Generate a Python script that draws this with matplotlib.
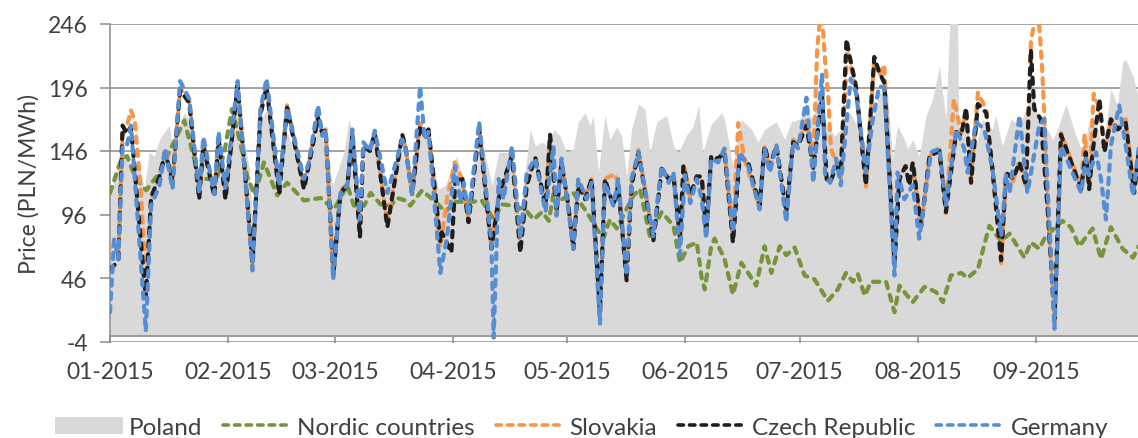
import matplotlib
matplotlib.use("Agg")
import matplotlib.pyplot as plt
from matplotlib.patches import Patch
from matplotlib.lines import Line2D

# day index counted from 1 Jan 2015, values in PLN/MWh
month_days = [0, 31, 59, 90, 120, 151, 181, 212, 243]
month_labels = ["01-2015", "02-2015", "03-2015", "04-2015", "05-2015",
                "06-2015", "07-2015", "08-2015", "09-2015"]

pl_day = [0, 3.3, 5.1, 7.7, 9, 10.3, 11.6, 13, 14.3, 15.6, 16.4, 17.8, 19.5, 20.8, 23, 24.4,
          27, 28.8, 30.5, 32.2, 33.5, 36.6, 37.9, 39.5, 41.3, 44, 46.5, 50.9, 54.4, 56.6,
          58.4, 61.4, 62.7, 64, 65.8, 67.1, 69.3, 72.8, 76.3, 79.3, 81.9, 83.6, 86.3, 88,
          91, 94.1, 97.1, 100.3, 102, 105.5, 107.7, 110.3, 111.6, 113.4, 114.7, 116.6,
          118.1, 119.8, 121.6, 122.9, 124.7, 126, 126.8, 128.2, 129.9, 131.2, 133, 134.3,
          135.6, 136.9, 138.7, 140.4, 141.7, 143.5, 146.1, 147.9, 149.2, 151.4, 153,
          154.5, 155.6, 157.8, 160.5, 161.3, 163.5, 165.7, 168.4, 170.1, 171.8, 174.9,
          177.1, 178.8, 181, 182.3, 184.6, 185.8, 188, 190.2, 192.8, 194.2, 196.7, 198.4,
          201.9, 204.1, 205.4, 206.7, 208.5, 209.4, 210.7, 212.4, 214.2, 215.9, 217.7,
          219.4, 220.6, 222.4, 222.8, 224.7, 226.4, 229, 231.6, 232.5, 234.2, 236.5,
          238.7, 240.8, 242.2, 243.9, 246.1, 247.4, 248.7, 250.9, 253.5, 255.3, 257,
          258.8, 260.5, 262.7, 264.4, 265.8, 266.6, 268.5, 270]
pl_val = [113, 145, 137, 134, 116, 145, 142, 155, 161, 166, 145, 163, 176, 171, 113, 150,
          119, 155, 113, 163, 182, 132, 71, 171, 179, 124, 161, 126, 163, 161,
          119, 145, 171, 155, 103, 150, 158, 119, 150, 113, 163, 150, 116, 119,
          142, 103, 161, 119, 145, 145, 98, 163, 150, 153, 150, 163,
          158, 145, 148, 169, 176, 166, 174, 129, 174, 155, 165, 158,
          126, 163, 183, 179, 145, 169, 174, 150, 145, 159, 165,
          182, 145, 167, 176, 171, 134, 171, 163, 153, 163, 169,
          155, 169, 171, 179, 171, 197, 166, 158, 166, 176, 163, 150,
          192, 190, 140, 166, 155, 148, 155, 142, 174, 187, 213,
          171, 260, 260, 163, 174, 140, 171, 163, 174, 150, 171,
          166, 182, 190, 171, 163, 155, 163, 183, 158, 145, 169,
          171, 145, 195, 182, 216, 218, 205, 187]

no_day = [0, 3, 4.5, 6.5, 9.5, 13, 15, 19.5, 23, 25, 28, 30, 32, 34, 36, 38, 40.4, 43.9,
          46.5, 50.9, 55.3, 58.8, 62.3, 64, 66.7, 68.4, 71, 73.7, 75.4, 77.6, 78.8, 81.9,
          85.4, 88, 90.6, 95, 97.6, 100.7, 102.9, 105.5, 109, 111.2, 113.4, 115.2, 116.6,
          118.1, 121.6, 125.1, 127.7, 129.5, 131.2, 133, 137.4, 139.1, 141.7, 144.8,
          147.9, 149.6, 151.8, 154, 155.3, 156.1, 157.8, 158.7, 161.3, 163.5, 165.7,
          167.5, 169.6, 171.8, 173.6, 175.8, 177.5, 179.7, 182.3, 184.9, 188.4, 191,
          193.2, 195, 196.3, 198.1, 199.7, 201.9, 203.7, 205.9, 207.2, 209, 210.7, 213.8,
          216.8, 218.6, 220.7, 223.4, 225.1, 227.8, 229.9, 230.8, 232.1, 233.9, 236.1,
          240, 241.7, 243.9, 245.6, 250, 252.2, 254.4, 256.1, 257.9, 260.1, 262.7, 265.8,
          268.5, 270]
no_val = [113, 140, 142, 126, 115, 129, 142, 170, 129, 124, 124, 145, 179, 155, 126, 111,
          137, 111, 121, 107, 109, 100, 119, 103, 103, 113, 104, 103, 109, 107, 103, 115,
          106, 98, 106, 106, 107, 92, 104, 103, 100, 92, 98, 91, 116,
          107, 113, 98, 85, 77, 92, 85, 111, 116, 79, 98,
          87, 58, 71, 74, 46, 37, 71, 77, 61, 33, 58,
          50, 40, 71, 50, 71, 64, 70, 48, 45, 28, 37,
          50, 43, 49, 32, 43, 43, 43, 19, 40, 33, 27, 39,
          35, 27, 48, 50, 46, 53, 77, 87, 82, 75, 81,
          62, 74, 69, 79, 91, 86, 71, 78, 85, 61, 86, 69,
          62, 71]

sk_day = [0, 1.1, 2.2, 3.3, 4.4, 5.5, 6.5, 8, 9.4, 10.8, 13, 14.5, 16.4, 18.4, 20.8,
          23.4, 24.5, 27.4, 28.5, 30.3, 33.5, 37.4, 39.5, 41.1, 44.4, 46.5, 50.9, 52.2,
          54.6, 55.7, 56.6, 58.6, 60.5, 62.3, 63.6, 65.6, 66.5, 68.2, 69.5, 72.8, 76.7,
          77.5, 79.3, 81.4, 82.6, 83.6, 86.7, 88.4, 90.5, 92.4, 94.1, 96.9, 100.1, 102,
          103.3, 105.5, 107.7, 109.4, 111.6, 114.3, 115.5, 117.2, 118.5, 120.3, 121.6,
          122.9, 124.7, 126.4, 128.6, 129.9, 132.5, 133.4, 135.6, 136.9, 138.7, 142.6,
          144.8, 146.6, 147.9, 149.6, 150.9, 152.3, 154, 155.3, 156.5, 157.8, 159.6,
          161.3, 163.5, 164.9, 166.5, 170.5, 171.8, 173.2, 174.9, 177.5, 179.3, 180.6,
          182.8, 184.6, 185.6, 186.7, 187.7, 188.5, 189.2, 190.6, 191.8, 193.5, 195.8,
          198.4, 200.6, 201.9, 203.2, 205.9, 207.2, 208.8, 210.7, 212.9, 215.1, 217.7,
          219.4, 221.5, 223.4, 224.7, 226, 227.8, 230, 231.6, 233.9, 235.2, 237, 238.7,
          240.4, 241.7, 243.5, 244.6, 245.3, 246.1, 247.9, 249.6, 254.9, 255.8, 257,
          258.2, 259.7, 261, 262.7, 264.5, 266.6, 268.8, 270]
sk_val = [70, 72, 65, 158, 165, 178, 170, 119, 45, 108, 126, 148, 122, 195, 186,
          110, 152, 112, 157, 110, 198, 55, 178, 198, 115, 183, 118, 137,
          175, 160, 163, 47, 115, 120, 160, 80, 152, 146, 160, 88, 157,
          150, 112, 168, 158, 162, 70, 108, 137, 124, 92, 165, 70, 110,
          118, 145, 70, 122, 140, 100, 157, 97, 138, 102, 70,
          122, 110, 124, 15, 124, 128, 120, 45, 122, 147, 77,
          134, 122, 128, 75, 132, 108, 126, 124, 80, 141, 138,
          146, 78, 168, 140, 102, 149, 132, 151, 94, 155, 152,
          170, 140, 225, 262, 216, 190, 148, 137, 125, 225, 195,
          118, 218, 205, 214, 56, 126, 134, 136, 85, 142, 147,
          97, 187, 160, 177, 124, 192, 178, 132, 57, 128, 122, 138,
          118, 232, 262, 214, 170, 102, 12, 160, 118, 159, 118,
          191, 180, 147, 168, 165, 171, 115, 148]

cz_day = [0, 1.1, 2.2, 3.3, 4.4, 5.5, 9.4, 10.8, 13, 14.5, 16.4, 18.4, 20.8, 23.4, 24.5,
          27.4, 28.5, 30.3, 33.5, 37.4, 39.5, 41.1, 44.4, 46.5, 50.9, 52.2, 54.6, 55.7,
          56.6, 58.6, 60.5, 62.3, 63.6, 65.6, 66.5, 68.2, 69.5, 72.8, 76.7, 77.5, 79.3,
          81.4, 82.6, 83.6, 86.7, 87.1, 89.6, 90.6, 92.4, 94.1, 96.9, 100.1, 102, 102.9,
          105.5, 107.7, 109.4, 111.6, 114.3, 115.5, 117.2, 118.5, 120.3, 121.6, 122.9,
          124.7, 126.4, 128.6, 129.9, 132.1, 133.4, 135.6, 136.9, 138.7, 142.6, 144.8,
          146.6, 147.9, 149.6, 150.5, 152.3, 154, 155.3, 156.5, 157.8, 159.6, 161.3,
          163.5, 165.3, 167.5, 170.5, 171.8, 173.2, 174.9, 177.5, 179.3, 180.6, 182.8,
          184.6, 186.9, 188.1, 189, 190.6, 191.8, 193.3, 194.1, 195.8, 198.4, 200.6,
          201.9, 203.2, 205.9, 207.2, 208.8, 209.8, 210.7, 212.9, 215.1, 217.7, 219.4,
          222.1, 223.4, 224.7, 226, 227.8, 230, 231.6, 233.9, 235.2, 237, 238.7, 240.4,
          241.7, 242.6, 244.3, 246.1, 247.9, 249.6, 254.9, 256.1, 257, 257.9, 259.7, 261,
          262.7, 264.5, 266.6, 268.8, 270]
cz_val = [53, 56, 60, 166, 160, 165, 30, 110, 126, 145, 122, 194, 184, 108, 150,
          110, 155, 108, 198, 58, 175, 196, 112, 180, 116, 135, 172, 160,
          163, 48, 113, 119, 158, 78, 150, 146, 160, 86, 159, 150, 112,
          166, 158, 163, 75, 82, 66, 121, 126, 90, 163, 69, 108, 119,
          142, 66, 119, 141, 103, 159, 98, 137, 103, 69, 119,
          108, 124, 19, 124, 103, 119, 44, 119, 145, 75, 132,
          124, 126, 79, 134, 111, 126, 126, 82, 142, 140, 145,
          74, 142, 137, 103, 150, 134, 150, 98, 153, 150, 166,
          132, 190, 124, 121, 134, 129, 234, 221, 197, 119, 220,
          208, 200, 58, 124, 134, 119, 137, 87, 142, 146, 98,
          161, 158, 180, 121, 183, 176, 132, 60, 129, 124, 137, 119,
          226, 179, 171, 100, 14, 159, 116, 145, 116, 145, 187, 145,
          171, 163, 168, 113, 145]

de_day = [0, 1.1, 2.2, 3.3, 4.4, 5.5, 9.4, 10.8, 13, 14.5, 16.4, 18.4, 20.8, 23.4, 24.5,
          27.4, 28.5, 30.3, 33.5, 37.4, 39.5, 41.1, 44.4, 46.5, 50.9, 52.2, 54.6, 55.7,
          56.6, 58.6, 60.5, 62.3, 63.6, 65.6, 66.5, 68.2, 69.5, 72.8, 76.7, 77.5, 79.3,
          81.4, 82.6, 83.6, 86.7, 88.4, 90.5, 92, 92.9, 94.1, 96.9, 100.1, 100.7, 102,
          103.3, 105.5, 107.7, 109.4, 111.6, 114.3, 116.4, 117.2, 118.5, 120.3, 121.6,
          122.9, 125.1, 126.4, 128.6, 129.9, 132.1, 133.4, 135.6, 136.9, 138.7, 142.6,
          144.8, 146.6, 147.9, 149.6, 150.9, 152.3, 154, 155.3, 156.5, 157.8, 159.6,
          161.3, 163.5, 165.3, 167.5, 170.5, 171.8, 173.2, 174.9, 177.5, 179.3, 180.6,
          182.8, 184.6, 186.9, 187.7, 189, 190.6, 191.8, 194.4, 195.8, 198.4, 200.2,
          201.9, 203.2, 205.9, 206.7, 208.5, 210.7, 212.4, 215.5, 217.7, 219.4, 222.1,
          224.2, 225.1, 227.3, 229.5, 231.6, 233.9, 235.2, 236.1, 238.7, 240.8, 243.9,
          245.2, 247.9, 249.6, 254.9, 256.1, 257, 258.8, 260.1, 261.4, 262.7, 264.9,
          266.6, 268.5, 270]
de_val = [19, 77, 61, 150, 150, 166, 4, 103, 119, 148, 116, 201, 187, 113, 157,
          112, 161, 117, 201, 52, 179, 203, 119, 180, 124, 137, 182, 158,
          163, 45, 113, 119, 163, 92, 153, 146, 162, 113, 155, 150, 111,
          197, 155, 161, 50, 77, 134, 106, 121, 95, 169, 74, -1, 124,
          108, 150, 77, 129, 140, 98, 150, 95, 140, 100, 69,
          124, 108, 121, 10, 121, 103, 124, 48, 124, 145, 79,
          134, 121, 129, 64, 127, 105, 124, 108, 77, 140, 137,
          148, 82, 145, 134, 100, 148, 129, 151, 90, 153, 148,
          188, 121, 207, 127, 121, 140, 119, 203, 192, 129, 171,
          197, 196, 48, 129, 108, 119, 77, 145, 148, 103, 163,
          148, 129, 169, 163, 132, 79, 127, 113, 174, 113, 166,
          171, 6, 150, 113, 140, 127, 145, 124, 92, 150, 182,
          150, 111, 148]

TXT = "#404040"
plt.rcParams["font.family"] = ["Lato", "DejaVu Sans"]
plt.rcParams["axes.unicode_minus"] = False

fig = plt.figure(figsize=(11.38, 4.39), dpi=100)
ax = fig.add_axes([110 / 1138, 1 - 342.5 / 439, 1028 / 1138, 317.5 / 439])

ax.fill_between(pl_day, 0, pl_val, color="#d9d9d9", lw=0, zorder=1)

lw = 3.0
dash = (1.5, 1.7)
series = [
    (no_day, no_val, "#77933c"),
    (sk_day, sk_val, "#f79646"),
    (cz_day, cz_val, "#1e1e1e"),
    (de_day, de_val, "#558ed5"),
]
for i, (xd, yd, c) in enumerate(series):
    ax.plot(xd, yd, color=c, lw=lw, dashes=dash, dash_capstyle="round",
            solid_joinstyle="round", zorder=3 + i)

ax.set_xlim(0, 1028 / 3.81)
ax.set_ylim(-4, 246)
ax.set_yticks([-4, 46, 96, 146, 196, 246])
ax.set_xticks(month_days)
ax.set_xticklabels(month_labels)

ax.set_axisbelow(True)
ax.yaxis.grid(True, color="#8a8a8a", lw=1.1)
ax.xaxis.grid(False)
for s in ["top", "right"]:
    ax.spines[s].set_visible(False)
ax.spines["bottom"].set_position(("data", 0))
ax.spines["bottom"].set_zorder(10)
for s in ["left", "bottom"]:
    ax.spines[s].set_color("#8a8a8a")
    ax.spines[s].set_linewidth(1.1)

ax.tick_params(axis="y", direction="out", length=7, width=1.1, color="#8a8a8a",
               labelsize=16.5, labelcolor=TXT, pad=9)
ax.tick_params(axis="x", direction="out", length=5, width=1.1, color="#8a8a8a",
               labelsize=16.5, labelcolor=TXT, pad=13)
ax.set_ylabel("Price (PLN/MWh)", fontsize=16.5, color=TXT, labelpad=6)

handles = [Patch(facecolor="#d9d9d9", edgecolor="none")]
for xd, yd, c in series:
    handles.append(Line2D([], [], color=c, lw=2.6, dashes=dash, dash_capstyle="round"))
labels = ["Poland", "Nordic countries", "Slovakia", "Czech Republic", "Germany"]
fig.legend(handles, labels, loc="center", bbox_to_anchor=(0.511, 0.024), ncol=5,
           frameon=False, fontsize=17.5, labelcolor=TXT, handlelength=2.8,
           handletextpad=0.25, columnspacing=0.85, borderpad=0)

fig.savefig("out.png", dpi=100)
